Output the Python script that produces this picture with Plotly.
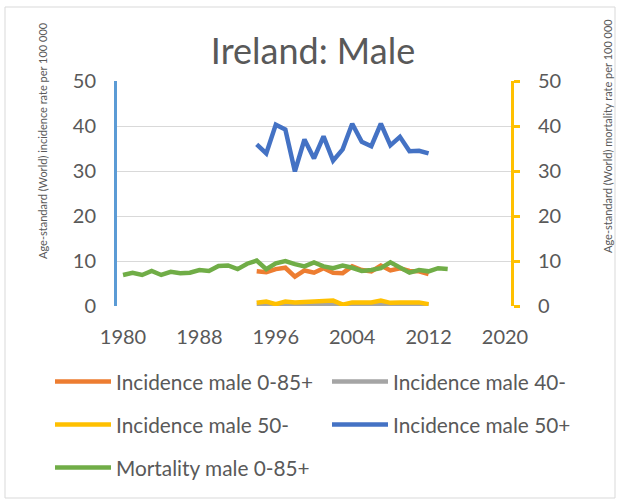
import plotly.graph_objects as go

# ---- data ----
years_inc = list(range(1994, 2013))
years_mort = list(range(1980, 2015))

inc_0_85 = [7.7, 7.5, 8.2, 8.5, 6.5, 7.9, 7.4, 8.4, 7.4, 7.3, 8.8, 8.0, 7.7, 9.0, 7.9, 8.4, 7.8, 7.7, 7.1]
inc_40m = [0.2, 0.2, 0.1, 0.3, 0.2, 0.3, 0.4, 0.5, 0.5, 0.1, 0.3, 0.3, 0.3, 0.4, 0.2, 0.3, 0.3, 0.3, 0.2]
inc_50m = [0.7, 1.0, 0.4, 1.0, 0.8, 0.9, 1.0, 1.2, 1.2, 0.3, 0.8, 0.8, 0.8, 1.2, 0.7, 0.8, 0.8, 0.8, 0.4]
inc_50p = [35.9, 33.9, 40.3, 39.2, 29.9, 37.0, 32.8, 37.7, 32.3, 34.8, 40.5, 36.5, 35.5, 40.5, 35.7, 37.6, 34.4, 34.5, 33.9]
mort_0_85 = [6.9, 7.4, 6.9, 7.8, 6.9, 7.6, 7.3, 7.4, 8.0, 7.8, 8.9, 9.0, 8.2, 9.4, 10.1,
             8.2, 9.5, 10.0, 9.3, 8.8, 9.7, 8.8, 8.4, 9.0, 8.5, 7.8, 8.0, 8.4, 9.7, 8.6,
             7.4, 8.0, 7.7, 8.4, 8.2]

x_ticks = [1980, 1988, 1996, 2004, 2012, 2020]
y_ticks = [0, 10, 20, 30, 40, 50]

title_text = "Ireland: Male"
left_title = "Age-standard (World) incidence rate per 100 000"
right_title = "Age-standard (World) mortality rate per 100 000"

FONT = "Lato"
TXT = "#595959"
LW = 4.5

# ---- geometry (pixels) ----
W, H = 620, 503
PL, PR, PT, PB = 117, 511, 81, 306
pw, ph = PR - PL, PB - PT


def px_x(x):
    return (x - PL) / pw


def px_y(y):
    return (PB - y) / ph


fig = go.Figure()

# name, x, y, colour, y-axis, legend id, legend position (px)
series = [
    ("Incidence male 0-85+", years_inc, inc_0_85, "#ED7D31", "y", "legend", (50, 382)),
    ("Incidence male 40-", years_inc, inc_40m, "#A5A5A5", "y", "legend2", (327, 382)),
    ("Incidence male 50-", years_inc, inc_50m, "#FFC000", "y", "legend3", (50, 425)),
    ("Incidence male 50+", years_inc, inc_50p, "#4472C4", "y", "legend4", (327, 425)),
    ("Mortality male 0-85+", years_mort, mort_0_85, "#70AD47", "y2", "legend5", (50, 468)),
]

legend_common = dict(
    orientation="h", xanchor="left", yanchor="middle",
    font=dict(family=FONT, size=20.8, color=TXT),
    bgcolor="rgba(0,0,0,0)", itemwidth=56,
)

legends = {}
for name, xs, ys, col, yax, leg, (lx, ly) in series:
    fig.add_trace(go.Scatter(
        x=xs, y=ys, name=name, mode="lines", yaxis=yax, legend=leg,
        line=dict(color=col, width=LW),
    ))
    legends[leg] = dict(legend_common, x=px_x(lx), y=px_y(ly))

fig.update_layout(
    width=W, height=H,
    margin=dict(l=PL, r=W - PR, t=PT, b=H - PB, pad=0),
    paper_bgcolor="white", plot_bgcolor="white",
    font=dict(family=FONT, color=TXT),
    title=dict(text=title_text, x=px_x(313), xanchor="center", xref="paper",
               y=1 - 51 / H, yanchor="middle",
               font=dict(family=FONT, size=36, color=TXT)),
    xaxis=dict(range=[1979.37, 2020.63], tickvals=x_ticks, showgrid=False,
               zeroline=False, showline=False, ticks="",
               tickfont=dict(family=FONT, size=20, color=TXT),
               ticklabelstandoff=17),
    yaxis=dict(range=[0, 50], tickvals=y_ticks, showgrid=True,
               gridcolor="#D9D9D9", gridwidth=1.3, zeroline=False,
               showline=True, linecolor="#5B9BD5", linewidth=3, ticks="",
               tickfont=dict(family=FONT, size=20, color=TXT),
               ticklabelstandoff=14),
    yaxis2=dict(range=[0, 50], tickvals=y_ticks, overlaying="y", side="right",
                showgrid=False, zeroline=False, showline=True,
                linecolor="#FFC000", linewidth=3, ticks="outside",
                ticklen=6, tickwidth=3, tickcolor="#FFC000",
                tickfont=dict(family=FONT, size=20, color=TXT),
                ticklabelstandoff=14),
    showlegend=True,
    shapes=[dict(type="rect", xref="paper", yref="paper",
                 x0=px_x(5), x1=px_x(615), y0=px_y(498), y1=px_y(7),
                 line=dict(color="#D9D9D9", width=1), layer="below")],
    annotations=[
        dict(text=left_title, textangle=-90, xref="paper", yref="paper",
             x=px_x(42), y=px_y(141), xanchor="center", yanchor="middle",
             showarrow=False, font=dict(family=FONT, size=11, color=TXT)),
        dict(text=right_title, textangle=-90, xref="paper", yref="paper",
             x=px_x(607), y=px_y(136), xanchor="center", yanchor="middle",
             showarrow=False, font=dict(family=FONT, size=11, color=TXT)),
    ],
)
fig.update_layout(**legends)

fig.write_html("out.html", config={"displayModeBar": False},
               post_script="document.body.style.margin='0';")
